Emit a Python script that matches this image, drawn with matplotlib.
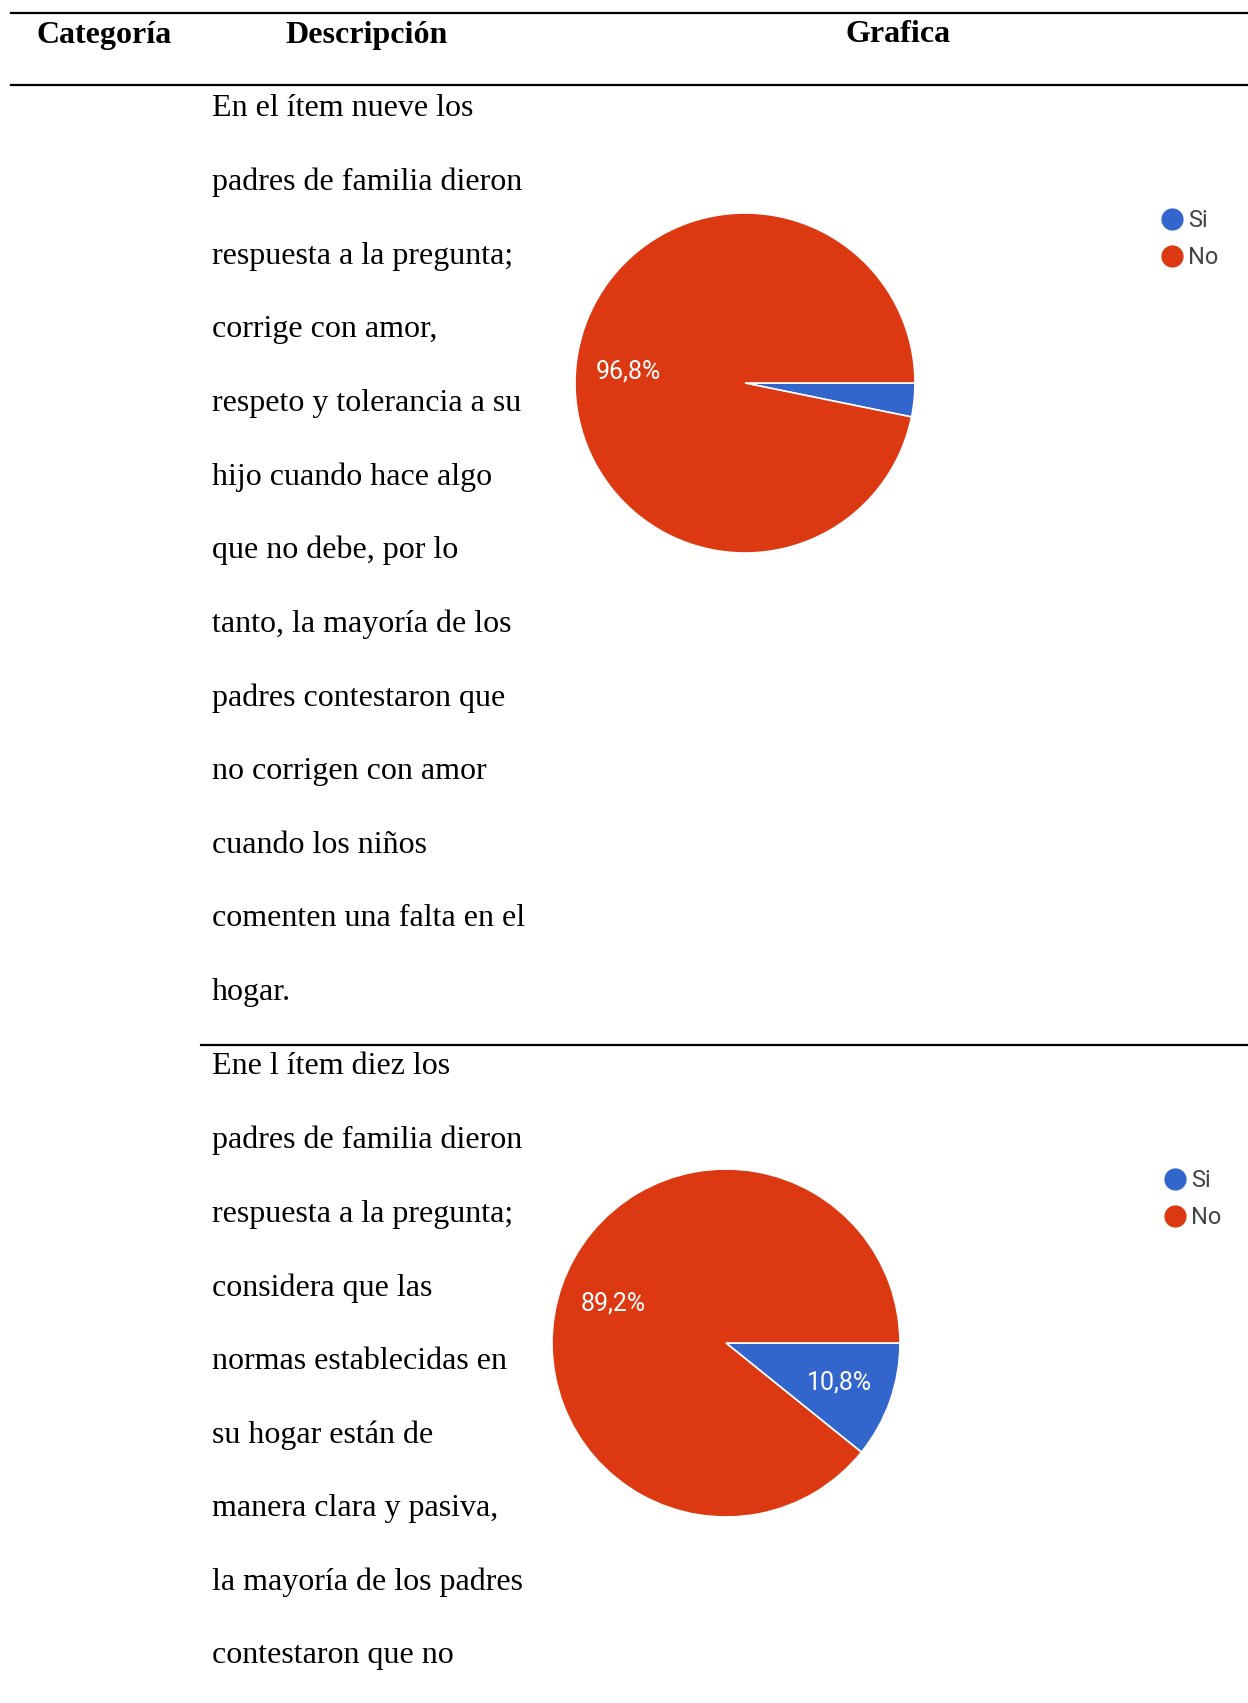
import matplotlib
matplotlib.use("Agg")
import matplotlib.pyplot as plt
from matplotlib.lines import Line2D

# Data
categorias = ["Si", "No"]
colores = ["#3366CC", "#DC3912"]
item9 = [3.2, 96.8]
item10 = [10.8, 89.2]

encabezados = ["Categoría", "Descripción", "Grafica"]

texto_item9 = [
    "En el ítem nueve los",
    "padres de familia dieron",
    "respuesta a la pregunta;",
    "corrige con amor,",
    "respeto y tolerancia a su",
    "hijo cuando hace algo",
    "que no debe, por lo",
    "tanto, la mayoría de los",
    "padres contestaron que",
    "no corrigen con amor",
    "cuando los niños",
    "comenten una falta en el",
    "hogar.",
]
texto_item10 = [
    "Ene l ítem diez los",
    "padres de familia dieron",
    "respuesta a la pregunta;",
    "considera que las",
    "normas establecidas en",
    "su hogar están de",
    "manera clara y pasiva,",
    "la mayoría de los padres",
    "contestaron que no",
]

W, H = 1248, 1703
fig = plt.figure(figsize=(W / 100, H / 100), dpi=100)


def fx(x):
    return x / W


def fy(y):
    return 1 - y / H


serif = "Liberation Serif"

# table rules
fig.add_artist(Line2D([fx(11), fx(1248)], [fy(13), fy(13)], color="black", lw=1.6))
fig.add_artist(Line2D([fx(11), fx(1248)], [fy(85), fy(85)], color="black", lw=1.6))
fig.add_artist(Line2D([fx(201), fx(1248)], [fy(1045), fy(1045)], color="black", lw=1.6))

# header
for txt, xc in zip(encabezados, [104, 367, 898]):
    fig.text(fx(xc), fy(35), txt, ha="center", va="center", fontsize=23,
             fontweight="bold", family=serif)

# description text
paso = 73.6
for i, linea in enumerate(texto_item9):
    fig.text(fx(212), fy(109 + i * paso), linea, ha="left", va="center",
             fontsize=23, family=serif)
for i, linea in enumerate(texto_item10):
    fig.text(fx(212), fy(1067 + i * paso), linea, ha="left", va="center",
             fontsize=23, family=serif)


def fmt(p):
    return (f"{p:.1f}%").replace(".", ",") if p > 5 else ""


def pastel(valores, cx, cy, r, leg_x, leg_y):
    ax = fig.add_axes([fx(cx - r), fy(cy + r), 2 * r / W, 2 * r / H])
    wedges, _, autotexts = ax.pie(
        valores, colors=colores, startangle=0, counterclock=False,
        autopct=fmt, pctdistance=0.69,
        wedgeprops=dict(edgecolor="white", linewidth=1.2),
        textprops=dict(color="white", fontsize=18, family="Roboto"))
    ax.set_xlim(-1, 1)
    ax.set_ylim(-1, 1)
    for w in wedges:
        w.set_clip_on(False)
    handles = [Line2D([], [], marker="o", linestyle="", color=c, markersize=15)
               for c in colores]
    fig.legend(handles, categorias, loc="upper left",
               bbox_to_anchor=(fx(leg_x), fy(leg_y)), frameon=False,
               labelcolor="#444444", handletextpad=0.05,
               labelspacing=0.6, handlelength=1.2,
               prop={"family": "Roboto", "size": 17})


pastel(item9, 745, 383, 170, 1137, 188)
pastel(item10, 726, 1343, 174, 1140, 1148)

fig.savefig("out.png", dpi=100)
